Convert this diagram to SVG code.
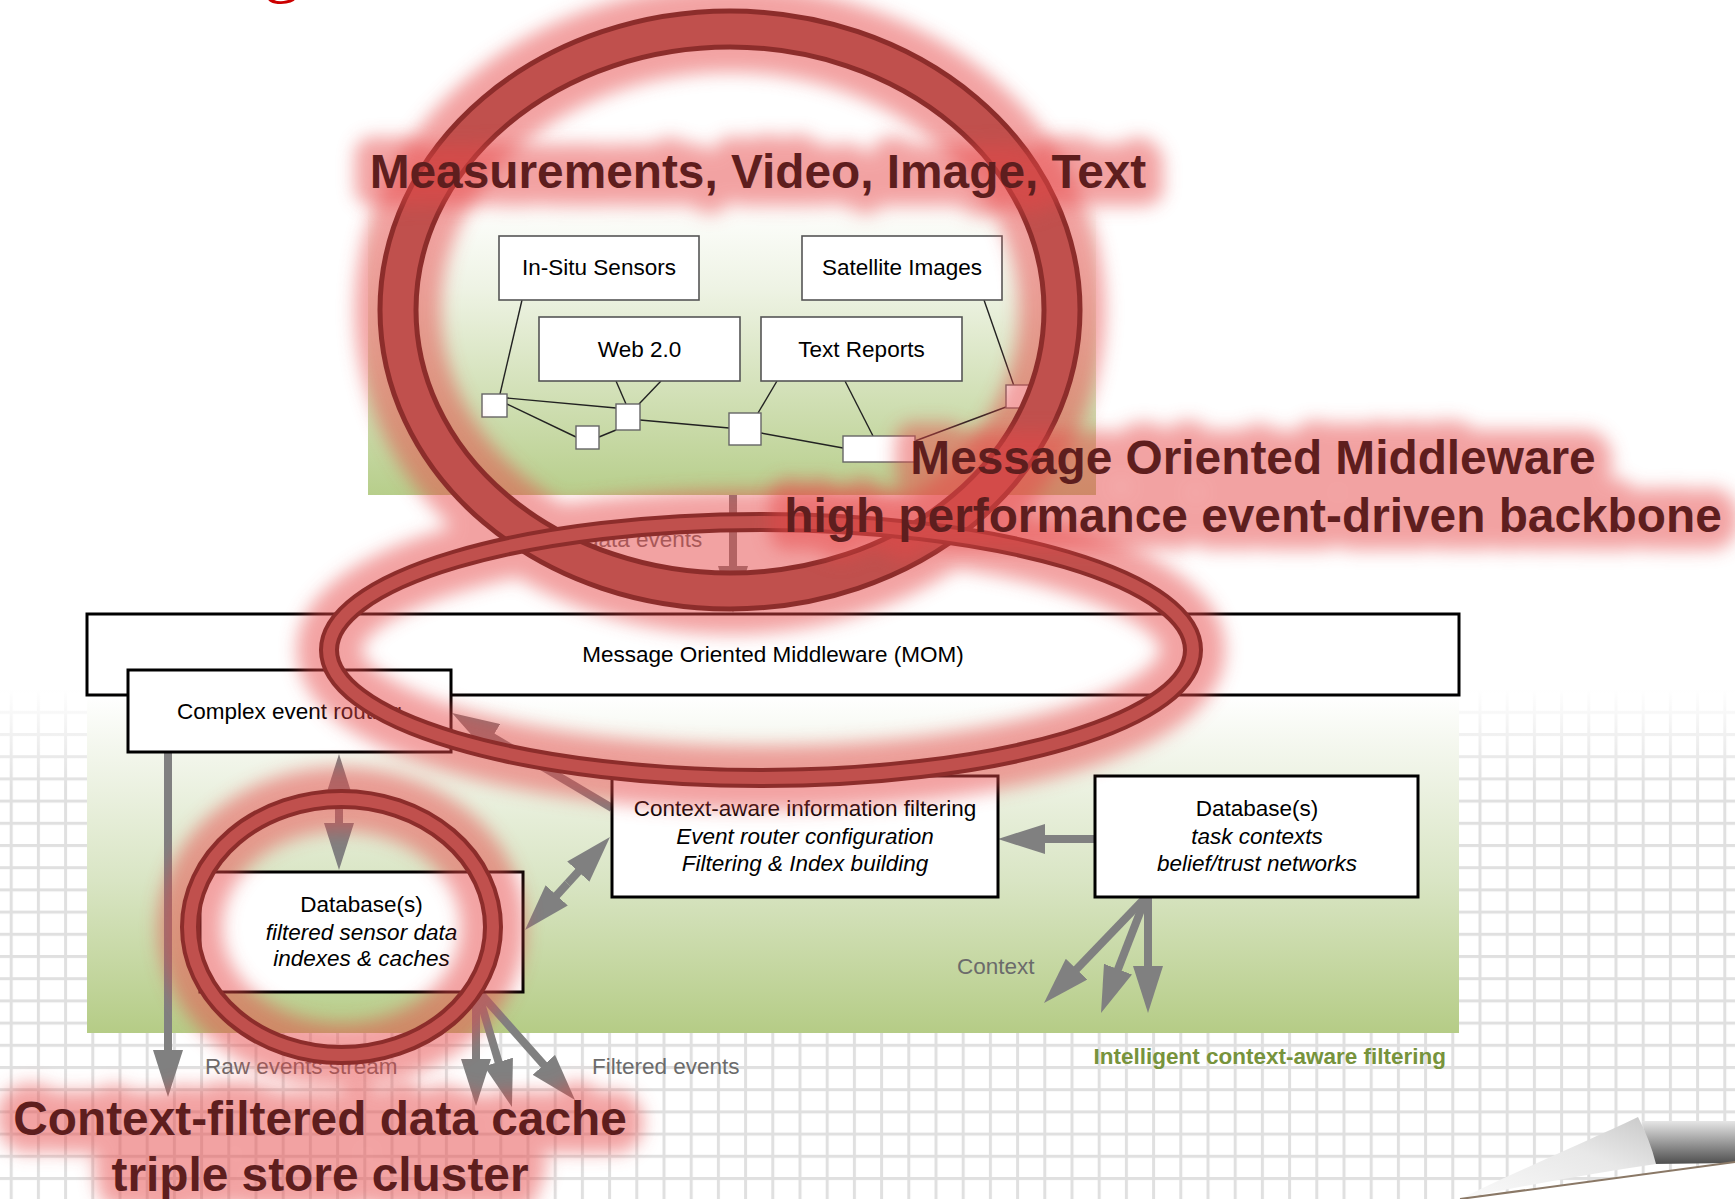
<svg xmlns="http://www.w3.org/2000/svg" width="1735" height="1199" viewBox="0 0 1735 1199">
<defs>
  <pattern id="grid" patternUnits="userSpaceOnUse" x="9.7" y="0.4" width="27.2" height="22.2">
    <rect width="27.2" height="22.2" fill="#ffffff"/>
    <rect x="0" y="0" width="3" height="22.2" fill="#e0e0e0"/>
    <rect x="0" y="0" width="27.2" height="3" fill="#e0e0e0"/>
  </pattern>
  <linearGradient id="gridFade" x1="0" y1="0" x2="0" y2="1">
    <stop offset="0" stop-color="#ffffff" stop-opacity="1"/>
    <stop offset="1" stop-color="#ffffff" stop-opacity="0"/>
  </linearGradient>
  <linearGradient id="topPanel" x1="0" y1="0" x2="0" y2="1">
    <stop offset="0" stop-color="#ffffff"/>
    <stop offset="0.3" stop-color="#eef3e4"/>
    <stop offset="1" stop-color="#b7ce8b"/>
  </linearGradient>
  <linearGradient id="lowPanel" x1="0" y1="0" x2="0" y2="1">
    <stop offset="0" stop-color="#ffffff"/>
    <stop offset="0.15" stop-color="#f4f7ee"/>
    <stop offset="0.55" stop-color="#d9e5c4"/>
    <stop offset="1" stop-color="#b5cc86"/>
  </linearGradient>
  <linearGradient id="curlShadow" x1="0" y1="0" x2="0" y2="1">
    <stop offset="0" stop-color="#e6e6e6"/>
    <stop offset="1" stop-color="#4e4e4e"/>
  </linearGradient>
  <linearGradient id="curlFill" x1="0" y1="1" x2="1" y2="0">
    <stop offset="0" stop-color="#fafafa"/>
    <stop offset="0.6" stop-color="#e8e8e8"/>
    <stop offset="1" stop-color="#c8c8c8"/>
  </linearGradient>
  <filter id="blur" filterUnits="userSpaceOnUse" x="0" y="0" width="1735" height="1199">
    <feGaussianBlur stdDeviation="9"/>
  </filter>
  <marker id="ah" markerUnits="userSpaceOnUse" viewBox="0 0 47 30" markerWidth="47" markerHeight="30" refX="31" refY="15" orient="auto">
    <path d="M0,0 L47,15 L0,30 Z" fill="#808080"/>
  </marker>
  <style>
    .box { fill: #ffffff; stroke: #000000; stroke-width: 3; }
    .tbox { fill: #ffffff; stroke: #555555; stroke-width: 1.6; }
    .sq { fill: #ffffff; stroke: #666666; stroke-width: 1.4; }
    .thin { stroke: #222222; stroke-width: 1.4; fill: none; }
    .arr { stroke: #808080; stroke-width: 8; fill: none; marker-end: url(#ah); }
    .t { font-family: "Liberation Sans", Arial, sans-serif; font-size: 22.5px; fill: #000000; text-anchor: middle; }
    .i { font-style: italic; }
    .lbl { font-family: "Liberation Sans", Arial, sans-serif; font-size: 22.5px; fill: #6b6b6b; }
    .green { font-family: "Liberation Sans", Arial, sans-serif; font-size: 22.5px; font-weight: bold; fill: #77933c; text-anchor: end; }
    .big { font-family: "Liberation Sans", Arial, sans-serif; font-size: 47.8px; font-weight: bold; fill: #5e1e1e; text-anchor: middle; }
    .glowtxt { font-family: "Liberation Sans", Arial, sans-serif; font-size: 47.8px; font-weight: bold; text-anchor: middle; fill: #e64646; stroke: #e64646; stroke-width: 36; stroke-linejoin: round; }
    .ringOut { fill: none; stroke: #8c2d2b; }
    .ringIn { fill: none; stroke: #c0504d; }
    .ringGlow { fill: none; stroke: #e64646; }
  </style>
</defs>

<!-- background -->
<rect width="1735" height="1199" fill="#ffffff"/>
<rect x="0" y="690" width="1735" height="509" fill="url(#grid)"/>
<rect x="0" y="689" width="1735" height="100" fill="url(#gridFade)"/>

<!-- partial red title glyph at top -->
<text x="264" y="-11" font-family="Liberation Serif, 'Times New Roman', serif" font-size="72" fill="#cc0000">g</text>

<!-- panels -->
<rect id="panel-sources" x="368" y="200" width="728" height="295" fill="url(#topPanel)"/>
<rect id="panel-filtering" x="87" y="695" width="1372" height="338" fill="url(#lowPanel)"/>

<!-- connectors -->
<g id="connectors">
  <line class="thin" x1="522" y1="300" x2="500" y2="394"/>
  <line class="thin" x1="984" y1="300" x2="1014" y2="386"/>
  <line class="thin" x1="616" y1="381" x2="626" y2="404"/>
  <line class="thin" x1="661" y1="381" x2="639" y2="404"/>
  <line class="thin" x1="777" y1="381" x2="758" y2="413"/>
  <line class="thin" x1="845" y1="381" x2="873" y2="436"/>
  <line class="thin" x1="507" y1="398" x2="616" y2="408"/>
  <line class="thin" x1="507" y1="404" x2="576" y2="437"/>
  <line class="thin" x1="599" y1="437" x2="616" y2="430"/>
  <line class="thin" x1="640" y1="420" x2="729" y2="428"/>
  <line class="thin" x1="761" y1="433" x2="843" y2="448"/>
  <line class="thin" x1="915" y1="441" x2="1006" y2="407"/>

  <path class="arr" d="M733,495 L733,597"/>
  <path class="arr" d="M168,752 L168,1081"/>
  <path class="arr" d="M339,812 L339,770"/>
  <path class="arr" d="M339,812 L339,854"/>
  <path class="arr" d="M612,808 L465.8,721.2"/>
  <path class="arr" d="M567.5,883.5 L599.2,848.8"/>
  <path class="arr" d="M567.5,883.5 L535.8,918.2"/>
  <path class="arr" d="M1095,839 L1014,839"/>
  <path class="arr" d="M1146,897 L1055.1,991.5"/>
  <path class="arr" d="M1146,897 L1106.8,998.1"/>
  <path class="arr" d="M1148,897 L1148,997"/>
  <path class="arr" d="M476,993 L476,1090"/>
  <path class="arr" d="M478,993 L507.4,1091.7"/>
  <path class="arr" d="M480,993 L564.4,1088"/>
</g>

<!-- source nodes -->
<g id="in-situ-sensors"><rect class="tbox" x="499" y="236" width="200" height="64"/><text class="t" x="599" y="275">In-Situ Sensors</text></g>
<g id="satellite-images"><rect class="tbox" x="802" y="236" width="200" height="64"/><text class="t" x="902" y="275">Satellite Images</text></g>
<g id="web-2"><rect class="tbox" x="539" y="317" width="201" height="64"/><text class="t" x="639.5" y="357">Web 2.0</text></g>
<g id="text-reports"><rect class="tbox" x="761" y="317" width="201" height="64"/><text class="t" x="861.5" y="357">Text Reports</text></g>
<g id="net-nodes">
  <rect class="sq" x="482" y="394" width="25" height="23"/>
  <rect class="sq" x="576" y="426" width="23" height="23"/>
  <rect class="sq" x="616" y="404" width="24" height="26"/>
  <rect class="sq" x="729" y="413" width="32" height="32"/>
  <rect class="sq" x="843" y="436" width="72" height="26"/>
  <rect class="sq" x="1006" y="385" width="23" height="23"/>
</g>

<!-- lower nodes -->
<g id="mom"><rect class="box" x="87" y="614" width="1372" height="81"/><text class="t" x="773" y="662">Message Oriented Middleware (MOM)</text></g>
<g id="complex-event-routing"><rect class="box" x="128" y="670" width="323" height="82"/><text class="t" x="289.5" y="719">Complex event routing</text></g>
<g id="context-aware-filtering"><rect class="box" x="612" y="776" width="386" height="121"/>
  <text class="t" x="805" y="816">Context-aware information filtering</text>
  <text class="t i" x="805" y="844">Event router configuration</text>
  <text class="t i" x="805" y="871">Filtering &amp; Index building</text></g>
<g id="database-contexts"><rect class="box" x="1095" y="776" width="323" height="121"/>
  <text class="t" x="1257" y="816">Database(s)</text>
  <text class="t i" x="1257" y="844">task contexts</text>
  <text class="t i" x="1257" y="871">belief/trust networks</text></g>
<g id="database-filtered"><rect class="box" x="200" y="872" width="323" height="120"/>
  <text class="t" x="361.5" y="912">Database(s)</text>
  <text class="t i" x="361.5" y="940">filtered sensor data</text>
  <text class="t i" x="361.5" y="966">indexes &amp; caches</text></g>

<!-- connector labels -->
<g id="labels">
  <text class="lbl" x="586" y="547">data events</text>
  <text class="lbl" x="205" y="1074">Raw events stream</text>
  <text class="lbl" x="592" y="1074">Filtered events</text>
  <text class="lbl" x="957" y="974">Context</text>
  <text class="green" x="1446" y="1064">Intelligent context-aware filtering</text>
</g>

<!-- page curl -->
<g id="page-curl">
  <path d="M1642,1121 L1735,1121 L1735,1163 L1652,1164 Z" fill="url(#curlShadow)"/>
  <path d="M1735,1162 L1460,1199 L1735,1199 Z" fill="#ffffff"/>
  <path d="M1460,1199 C1530,1165 1590,1140 1638,1117 C1646,1132 1652,1148 1656,1164 C1590,1174 1520,1186 1460,1199 Z" fill="url(#curlFill)"/>
  <path d="M1460,1199 L1735,1162" stroke="#8a7866" stroke-width="2" fill="none"/>
</g>

<!-- annotation rings -->
<g id="ring-glows" filter="url(#blur)" opacity="0.5">
  <ellipse class="ringGlow" cx="730" cy="310" rx="332" ry="281" stroke-width="86"/>
  <ellipse class="ringGlow" cx="761" cy="650" rx="432" ry="128" stroke-width="64"/>
  <ellipse class="ringGlow" cx="341.5" cy="927" rx="151.5" ry="128" stroke-width="64"/>
</g>
<g id="rings">
  <ellipse class="ringOut" cx="730" cy="310" rx="332" ry="281" stroke-width="41"/>
  <ellipse class="ringIn" cx="730" cy="310" rx="332" ry="281" stroke-width="31"/>
  <ellipse class="ringOut" cx="761" cy="650" rx="432" ry="128" stroke-width="20"/>
  <ellipse class="ringIn" cx="761" cy="650" rx="432" ry="128" stroke-width="12"/>
  <ellipse class="ringOut" cx="341.5" cy="927" rx="151.5" ry="128" stroke-width="20"/>
  <ellipse class="ringIn" cx="341.5" cy="927" rx="151.5" ry="128" stroke-width="12"/>
</g>

<!-- annotation texts -->
<g id="annotation-glows" filter="url(#blur)" opacity="0.5">
  <text class="glowtxt" x="758" y="188">Measurements, Video, Image, Text</text>
  <text class="glowtxt" x="1253" y="474">Message Oriented Middleware</text>
  <text class="glowtxt" x="1253" y="532">high performance event-driven backbone</text>
  <text class="glowtxt" x="320" y="1135">Context-filtered data cache</text>
  <text class="glowtxt" x="320" y="1191">triple store cluster</text>
</g>
<g id="annotations">
  <text class="big" x="758" y="188">Measurements, Video, Image, Text</text>
  <text class="big" x="1253" y="474">Message Oriented Middleware</text>
  <text class="big" x="1253" y="532">high performance event-driven backbone</text>
  <text class="big" x="320" y="1135">Context-filtered data cache</text>
  <text class="big" x="320" y="1191">triple store cluster</text>
</g>
</svg>
